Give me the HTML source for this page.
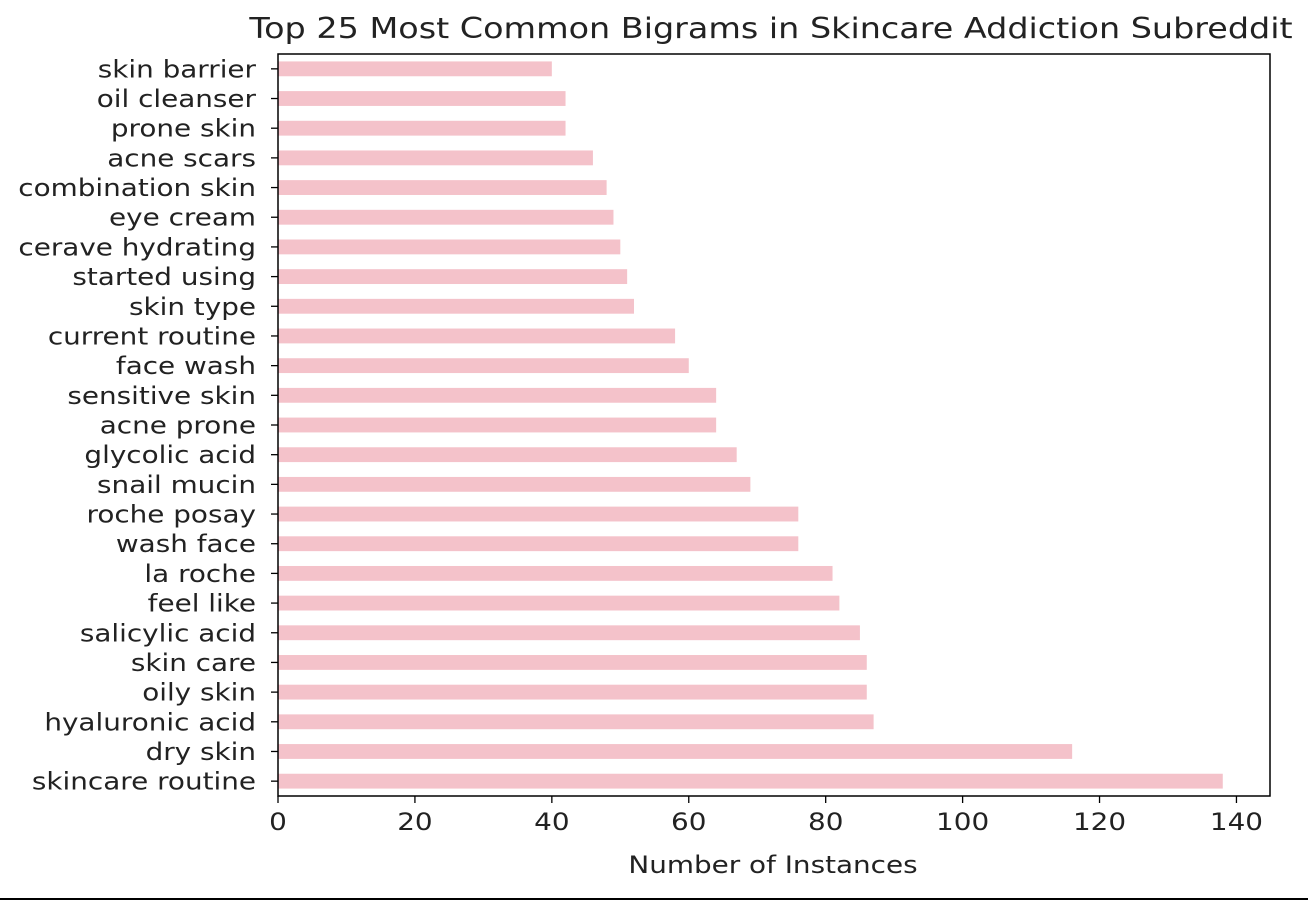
<!DOCTYPE html>
<html><head><meta charset="utf-8"><style>
html,body{margin:0;padding:0;background:#fff;}
svg{display:block;font-family:"DejaVu Sans","Liberation Sans",sans-serif;}
</style></head><body>
<svg id="chart" width="1308" height="902">
<text transform="translate(771,38) scale(1.16,1)" font-size="28.8" text-anchor="middle" fill="#222">Top 25 Most Common Bigrams in Skincare Addiction Subreddit</text>
<g id="bars"></g><g id="yt"></g><g id="xt"></g>
<rect x="278" y="54" width="992" height="742" fill="none" stroke="#000" stroke-width="1.5"/>
<text transform="translate(773,873) scale(1.16,1)" font-size="24" text-anchor="middle" fill="#222">Number of Instances</text>
<line x1="0" y1="899" x2="1308" y2="899" stroke="#000" stroke-width="2"/>
</svg>
<script>
const categories=["skin barrier","oil cleanser","prone skin","acne scars","combination skin","eye cream","cerave hydrating","started using","skin type","current routine","face wash","sensitive skin","acne prone","glycolic acid","snail mucin","roche posay","wash face","la roche","feel like","salicylic acid","skin care","oily skin","hyaluronic acid","dry skin","skincare routine"];
const values=[40,42,42,46,48,49,50,51,52,58,60,64,64,67,69,76,76,81,82,85,86,86,87,116,138];
const xTicks=[0,20,40,60,80,100,120,140];
const NS="http://www.w3.org/2000/svg";
const x0=278,x1=1270,y0=54,y1=796;
const xmax=Math.max(...values)*1.05;
const xs=v=>x0+v/xmax*(x1-x0);
const n=categories.length,step=(y1-y0)/n;
const ys=i=>y0+(i+0.5)*step;
const SX=1.16;
function mk(t,a){const e=document.createElementNS(NS,t);for(const k in a)e.setAttribute(k,a[k]);return e;}
const bars=document.getElementById('bars'),yt=document.getElementById('yt'),xt=document.getElementById('xt');
categories.forEach((c,i)=>{
 const r=mk('rect',{x:xs(0),y:ys(i)-step*0.25,width:xs(values[i])-xs(0),height:step*0.5,fill:'#f4c2ca'});
 
 
 bars.appendChild(r);
 const tk=mk('line',{x1:x0-7,x2:x0,y1:ys(i),y2:ys(i),stroke:'#000','stroke-width':1.3});
 
 
 yt.appendChild(tk);
 const t=mk('text',{transform:`translate(${x0-22},${ys(i)+8.5}) scale(${SX},1)`,'font-size':24,'text-anchor':'end',fill:'#222'});
 t.textContent=c;
 
 
 yt.appendChild(t);
});
xTicks.forEach(v=>{
 const tk=mk('line',{x1:xs(v),x2:xs(v),y1:y1,y2:y1+7,stroke:'#000','stroke-width':1.3});
 
 
 xt.appendChild(tk);
 const t=mk('text',{transform:`translate(${xs(v)},${y1+34}) scale(${SX},1)`,'font-size':24,'text-anchor':'middle',fill:'#222'});
 t.textContent=v;
 
 
 xt.appendChild(t);
});
</script>
</body></html>
